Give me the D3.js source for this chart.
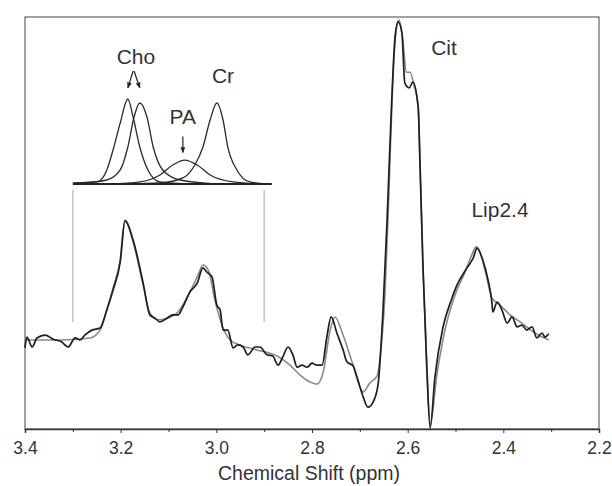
<!doctype html>
<html>
<head>
<meta charset="UTF-8">
<title>Chemical Shift spectrum</title>
<script src="https://d3js.org/d3.v7.min.js"></script>
<style>
  body { margin: 0; background: #fff; }
  text { font-family: "Liberation Sans", Arial, sans-serif; fill: #333; }
</style>
</head>
<body>
<script>
// ---- data (ppm, intensity) ----
var majorTicks = [3.4, 3.2, 3.0, 2.8, 2.6, 2.4, 2.2];
var minorTicks = [3.3, 3.1, 2.9, 2.7, 2.5, 2.3];

// measured spectrum (black)
var measured = [[3.400,19.7],[3.396,22.3],[3.385,19.9],[3.375,22.1],[3.358,22.8],[3.341,21.8],[3.323,21.1],
  [3.310,19.9],[3.295,22.1],[3.285,21.6],[3.275,22.8],[3.260,24.0],[3.243,24.5],[3.229,28.9],[3.216,33.7],
  [3.201,40.5],[3.191,50.5],[3.174,45.9],[3.153,35.4],[3.139,27.7],[3.128,26.9],[3.118,26.0],[3.103,26.9],
  [3.091,27.7],[3.080,27.7],[3.070,29.6],[3.055,33.3],[3.040,35.4],[3.028,39.1],[3.020,38.1],[3.009,36.9],
  [2.999,30.1],[2.992,28.9],[2.986,24.0],[2.976,24.0],[2.965,19.7],[2.955,20.4],[2.944,19.9],[2.934,18.0],
  [2.919,19.9],[2.909,19.9],[2.894,18.0],[2.882,17.7],[2.871,15.5],[2.861,17.5],[2.850,19.9],[2.840,18.0],
  [2.831,15.0],[2.821,15.5],[2.810,15.0],[2.800,16.0],[2.790,15.5],[2.779,15.5],[2.769,22.3],[2.760,27.2],
  [2.748,23.3],[2.735,19.2],[2.727,16.3],[2.714,15.3],[2.706,12.6],[2.693,7.8],[2.683,5.3],[2.672,6.6],
  [2.662,10.7],[2.652,27.7],[2.643,50.7],[2.635,75.0],[2.626,95.6],[2.620,98.8],[2.612,96.1],[2.606,84.0],
  [2.597,82.8],[2.589,84.2],[2.578,78.1],[2.574,63.6],[2.568,39.3],[2.560,15.0],[2.553,0.2],[2.543,12.6],
  [2.526,24.8],[2.511,30.6],[2.497,34.9],[2.476,39.1],[2.463,41.5],[2.455,43.9],[2.443,41.0],[2.432,36.2],
  [2.424,30.8],[2.422,28.4],[2.413,30.8],[2.403,28.9],[2.392,25.7],[2.382,27.2],[2.371,24.8],[2.361,25.2],
  [2.351,24.0],[2.340,24.8],[2.330,22.1],[2.319,23.3],[2.313,22.3],[2.305,23.1]];

// fitted spectrum (gray)
var fitted = [[3.400,21.6],[3.327,21.6],[3.264,22.1],[3.243,24.0],[3.229,28.9],[3.216,34.2],[3.201,41.0],
  [3.191,50.7],[3.174,45.4],[3.153,34.9],[3.139,28.2],[3.122,26.5],[3.103,26.9],[3.080,28.4],[3.055,33.3],
  [3.038,37.4],[3.028,39.8],[3.017,38.6],[3.003,31.3],[2.988,25.2],[2.971,21.6],[2.951,20.4],[2.915,19.2],
  [2.873,17.7],[2.846,15.5],[2.825,13.1],[2.804,11.4],[2.790,10.9],[2.777,13.6],[2.762,24.0],[2.752,27.2],
  [2.735,22.8],[2.714,15.5],[2.693,9.0],[2.679,11.2],[2.664,12.9],[2.656,19.2],[2.647,33.7],[2.639,58.0],
  [2.631,84.7],[2.624,96.8],[2.618,99.3],[2.610,94.4],[2.603,86.6],[2.595,86.6],[2.587,83.5],[2.578,78.1],
  [2.574,63.6],[2.568,39.3],[2.560,15.0],[2.553,1.0],[2.539,13.1],[2.522,24.0],[2.501,32.5],[2.480,38.1],
  [2.466,42.2],[2.457,44.2],[2.449,43.0],[2.436,37.4],[2.424,31.8],[2.407,30.1],[2.386,27.7],[2.365,26.0],
  [2.334,23.3],[2.305,21.6]];

// inset components (ppm, relative height)
var cho1 = [[3.300,1.2],[3.249,2.4],[3.229,16.5],[3.216,40.0],[3.201,71.7],[3.185,100],[3.174,78.8],
  [3.160,43.5],[3.143,16.5],[3.118,2.4],[3.049,0]];
var cho2 = [[3.285,1.2],[3.229,4.7],[3.201,16.5],[3.185,43.5],[3.172,78.8],[3.160,95.3],[3.145,78.8],
  [3.132,43.5],[3.112,16.5],[3.076,4.7],[2.999,0]];
var pa = [[3.222,0],[3.160,2.4],[3.118,10.6],[3.091,22.3],[3.066,28.2],[3.040,22.3],[3.013,10.6],
  [2.965,2.4],[2.905,0]];
var cr = [[3.187,0],[3.118,1.2],[3.070,7.1],[3.045,22.3],[3.028,43.5],[3.013,75.3],[2.999,95.3],
  [2.986,75.3],[2.976,43.5],[2.957,16.5],[2.930,2.4],[2.894,0]];
var insetRange = [3.300, 2.884];
var bracketPpm = [3.3, 2.9];
var bracketSpan = [58, 26];

var insetLabels = [{t:"Cho", x:3.168, y:141}, {t:"Cr", x:2.986, y:119}, {t:"PA", x:3.070, y:71}];
var insetArrows = [[3.174,133,3.185,113],[3.172,133,3.160,113],[3.070,56,3.070,37]];
var mainLabels = [{t:"Cit", x:2.524, y:90.8}, {t:"Lip2.4", x:2.407, y:51.5}];

// ---- layout ----
var W = 612, H = 486;
var mLeft = 25, mRight = 599, mTop = 17, mBottom = 429;

var svg = d3.select("body").append("svg").attr("width", W).attr("height", H);

var x = d3.scaleLinear().domain([3.4, 2.2]).range([mLeft, mRight]);
var y = d3.scaleLinear().domain([0, 100]).range([mBottom, mTop]);
var yi = d3.scaleLinear().domain([0, 100]).range([184, 99]);

// arrowhead
svg.append("defs").append("marker")
  .attr("id", "arr").attr("viewBox", "0 0 10 10").attr("refX", 9).attr("refY", 5)
  .attr("markerWidth", 5).attr("markerHeight", 5).attr("orient", "auto")
  .append("path").attr("d", "M0,1L10,5L0,9Z").attr("fill", "#222");

// frame
svg.append("rect").attr("x", mLeft).attr("y", mTop)
  .attr("width", mRight - mLeft).attr("height", mBottom - mTop)
  .attr("fill", "none").attr("stroke", "#444").attr("stroke-width", 1);

// x axis
var axis = svg.append("g").attr("transform", "translate(0," + mBottom + ")")
  .call(d3.axisBottom(x).tickValues(majorTicks).tickSize(4).tickFormat(d3.format(".1f")));
axis.select(".domain").attr("stroke", "#333").attr("stroke-width", 1.5);
axis.selectAll(".tick line").attr("stroke", "#333");
axis.selectAll("text").attr("font-size", 17.5).attr("fill", "#333").attr("dy", "1.0em")
  .style("font-family", "'Liberation Sans', Arial, sans-serif");
svg.append("g").attr("transform", "translate(0," + mBottom + ")")
  .call(d3.axisBottom(x).tickValues(minorTicks).tickSize(3).tickFormat(""))
  .call(function(g){ g.select(".domain").remove(); g.selectAll("line").attr("stroke", "#333"); });

svg.append("text").attr("x", 309).attr("y", 480)
  .attr("text-anchor", "middle").attr("font-size", 19.5).text("Chemical Shift (ppm)");

// bracket lines (gray)
svg.selectAll(".bracket").data(bracketPpm).enter().append("line")
  .attr("x1", function(d){ return x(d); }).attr("x2", function(d){ return x(d); })
  .attr("y1", y(bracketSpan[0])).attr("y2", y(bracketSpan[1]))
  .attr("stroke", "#c4c4c4").attr("stroke-width", 1.5);

// spectra
var spec = d3.line().x(function(d){ return x(d[0]); }).y(function(d){ return y(d[1]); })
  .curve(d3.curveMonotoneX);
svg.append("path").datum(fitted).attr("d", spec)
  .attr("fill", "none").attr("stroke", "#8a8a8a").attr("stroke-width", 1.6);
svg.append("path").datum(measured).attr("d", spec)
  .attr("fill", "none").attr("stroke", "#1e1e1e").attr("stroke-width", 1.7)
  .attr("stroke-linejoin", "round");

// inset
var iline = d3.line().x(function(d){ return x(d[0]); }).y(function(d){ return yi(d[1]); })
  .curve(d3.curveMonotoneX);
svg.selectAll(".comp").data([cho1, cho2, pa, cr]).enter().append("path")
  .attr("d", iline).attr("fill", "none").attr("stroke", "#2a2a2a").attr("stroke-width", 1.3);
svg.append("line").attr("x1", x(insetRange[0])).attr("x2", x(insetRange[1]))
  .attr("y1", yi(0)).attr("y2", yi(0)).attr("stroke", "#222").attr("stroke-width", 2);

svg.selectAll(".ilab").data(insetLabels).enter().append("text")
  .attr("x", function(d){ return x(d.x); }).attr("y", function(d){ return yi(d.y); })
  .attr("text-anchor", "middle").attr("font-size", 21).text(function(d){ return d.t; });
svg.selectAll(".iarr").data(insetArrows).enter().append("line")
  .attr("x1", function(d){ return x(d[0]); }).attr("y1", function(d){ return yi(d[1]); })
  .attr("x2", function(d){ return x(d[2]); }).attr("y2", function(d){ return yi(d[3]); })
  .attr("stroke", "#222").attr("stroke-width", 1.2).attr("marker-end", "url(#arr)");

svg.selectAll(".mlab").data(mainLabels).enter().append("text")
  .attr("x", function(d){ return x(d.x); }).attr("y", function(d){ return y(d.y); })
  .attr("text-anchor", "middle").attr("font-size", 21).text(function(d){ return d.t; });
</script>
</body>
</html>
